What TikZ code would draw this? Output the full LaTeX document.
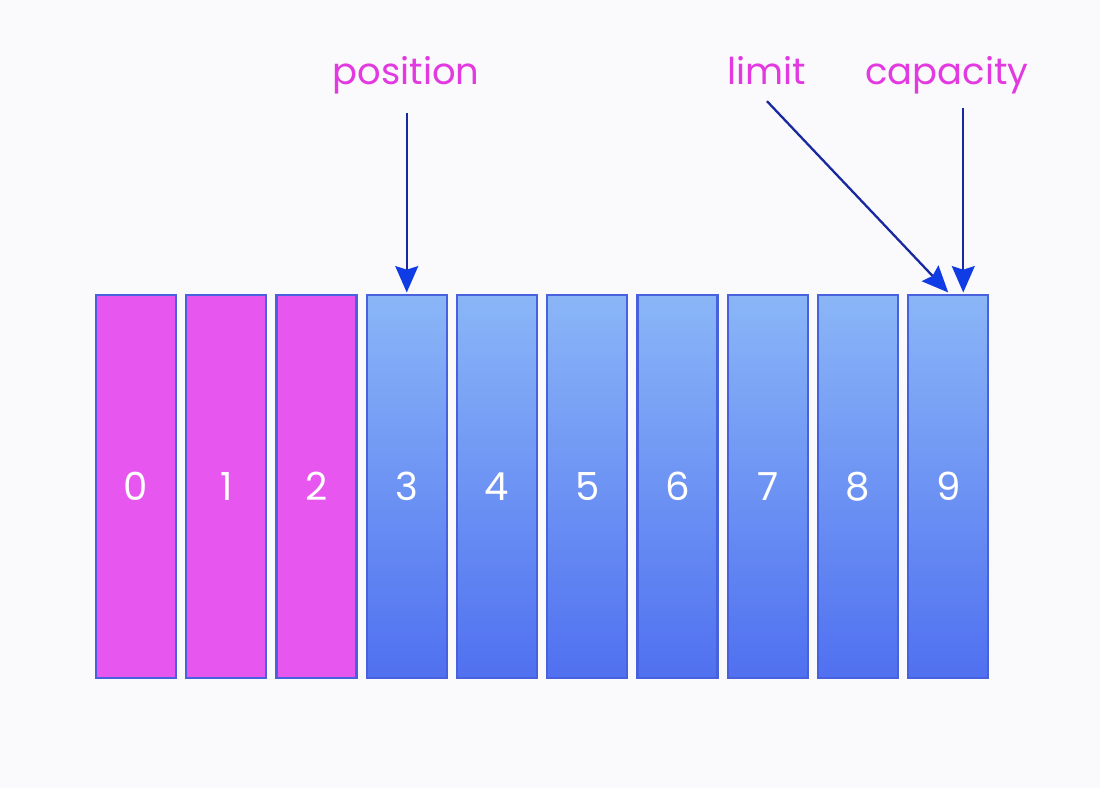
\documentclass[tikz,border=0pt]{standalone}
\usepackage{fontspec}
\setmainfont{Poppins}
\usetikzlibrary{positioning, arrows.meta}
\definecolor{bgcol}{RGB}{250,249,252}
\definecolor{pinkfill}{RGB}{232,86,240}
\definecolor{boxline}{RGB}{72,98,222}
\definecolor{blutop}{RGB}{138,182,247}
\definecolor{blubot}{RGB}{80,112,240}
\definecolor{labcol}{RGB}{226,58,224}
\definecolor{arrline}{RGB}{24,40,160}
\definecolor{arrhead}{RGB}{16,60,230}
\tikzset{
	cell/.style = {draw = boxline, line width = 1.2pt, outer sep = 0pt, minimum width = 1.6cm, minimum height = 7.66cm, inner sep = 0pt, text = white, font = \fontsize{22}{26}\selectfont},
	used/.style = {cell, fill = pinkfill},
	free/.style = {cell, top color = blutop, bottom color = blubot},
	marker/.style = {text = labcol, anchor = base, font = \fontsize{21}{25}\selectfont},
	pointer/.style = {draw = arrline, line width = 1.3pt, -{Stealth[length = 15pt, width = 13pt, inset = 2pt, color = arrhead]}}
}
\begin{document}
\begin{tikzpicture}
							\fill[bgcol] (0, 0) rectangle (22, 15.76);
							\useasboundingbox (0, 0) rectangle (22, 15.76);
							\node[used] (b0) at (2.72, 6.03) {0};
							\node[used, right = 0.205cm of b0] (b1) {1};
							\node[used, right = 0.205cm of b1] (b2) {2};
							\foreach \i [count = \j from 2] in {3, ..., 9}
								\node[free, right = 0.205cm of b\j] (b\i) {\i};
							\node[marker] (position) at (8.12, 14.06) {position};
							\node[marker] (limit) at (15.34, 14.06) {limit};
							\node[marker] (capacity) at (18.94, 14.06) {capacity};
							\draw[pointer] ([yshift = -0.25cm] b3.north |- position.south) -- ([yshift = 0.05cm] b3.north);
							\draw[pointer] ([yshift = -0.2cm] limit.south) -- ([yshift = 0.05cm] b9.north);
							\draw[pointer] ([xshift = 0.3cm, yshift = -0.15cm] b9.north |- capacity.south) -- ([xshift = 0.3cm, yshift = 0.05cm] b9.north);
						\end{tikzpicture}
\end{document}
